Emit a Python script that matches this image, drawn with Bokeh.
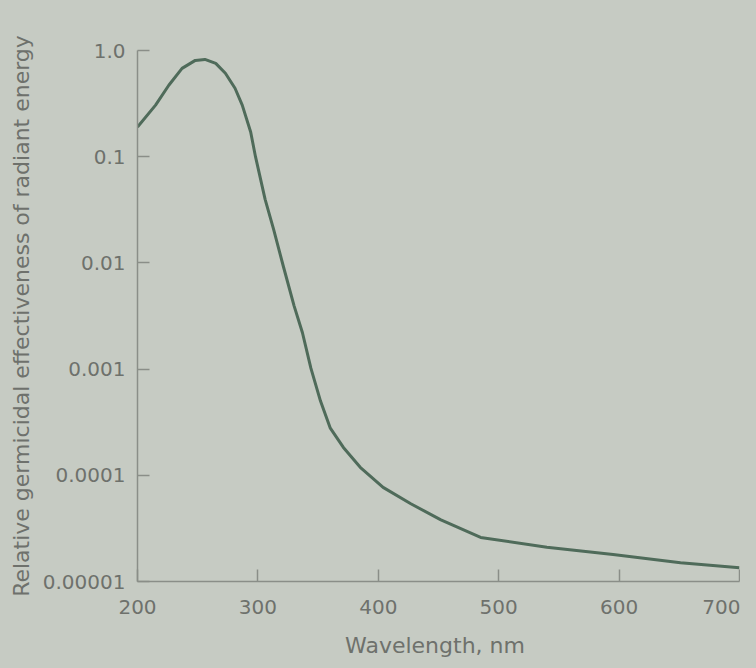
from bokeh.plotting import figure
from bokeh.models import FixedTicker, Range1d
from bokeh.embed import file_html
from bokeh.resources import INLINE

# Data
wavelength_nm = [200, 215, 226, 237, 248, 256, 265, 273, 281, 287, 294, 298, 306, 313,
                 321, 330, 337, 344, 352, 360, 371, 385, 404, 427, 452, 485, 540, 595,
                 651, 700]
effectiveness = [0.19, 0.306, 0.471, 0.679, 0.807, 0.824, 0.756, 0.61, 0.441, 0.306,
                 0.171, 0.1, 0.0397, 0.0208, 0.0094, 0.00396, 0.0022, 0.00102, 0.0005,
                 0.00028, 0.000183, 0.000119, 0.000077, 0.000054, 0.000038, 0.000026,
                 0.000021, 0.000018, 0.000015, 0.0000135]

x_ticks = [200, 300, 400, 500, 600, 700]
y_ticks = [1.0, 0.1, 0.01, 0.001, 0.0001, 0.00001]
y_tick_labels = ["1.0", "0.1", "0.01", "0.001", "0.0001", "0.00001"]

BG = "#c6cbc3"
TXT = "#6e716c"
LINE = "#4f6b5a"
AX = "#8a8e88"

p = figure(width=740, height=660, y_axis_type="log",
           x_range=Range1d(200, 700), y_range=Range1d(0.00001, 1.0),
           output_backend="svg", toolbar_location=None,
           background_fill_color=BG, background_fill_alpha=0,
           border_fill_color=BG, border_fill_alpha=0,
           min_border_left=137, min_border_right=1, min_border_top=50, min_border_bottom=75)
p.outline_line_color = None
p.grid.visible = False

p.line(wavelength_nm, effectiveness, line_color=LINE, line_width=3, line_join="round")

for ax in (p.xaxis[0], p.yaxis[0]):
    ax.axis_line_color = AX
    ax.axis_line_width = 1.5
    ax.major_tick_line_color = AX
    ax.major_tick_line_width = 1.5
    ax.major_tick_in = 12
    ax.major_tick_out = 0
    ax.minor_tick_line_color = None
    ax.major_label_text_color = TXT
    ax.major_label_text_font = "DejaVu Sans"
    ax.major_label_text_font_size = "20px"
    ax.axis_label_text_color = TXT
    ax.axis_label_text_font = "DejaVu Sans"
    ax.axis_label_text_font_size = "22px"
    ax.axis_label_text_font_style = "normal"

p.xaxis.ticker = FixedTicker(ticks=x_ticks)
p.yaxis.ticker = FixedTicker(ticks=y_ticks)
p.yaxis.major_label_overrides = {t: l for t, l in zip(y_ticks, y_tick_labels)}
p.xaxis.axis_label = "Wavelength,  nm"
p.yaxis.axis_label = "Relative germicidal effectiveness of radiant energy"
p.xaxis.major_label_standoff = 18
p.yaxis.major_label_standoff = 12
p.yaxis.axis_label_standoff = 6
p.xaxis.axis_label_standoff = 16

html = file_html(p, INLINE)
style = "<style>html, body, .bk-root, div { background-color: %s !important; }</style>" % BG
html = html.replace("</head>", style + "</head>", 1)
open("out.html", "w").write(html)
